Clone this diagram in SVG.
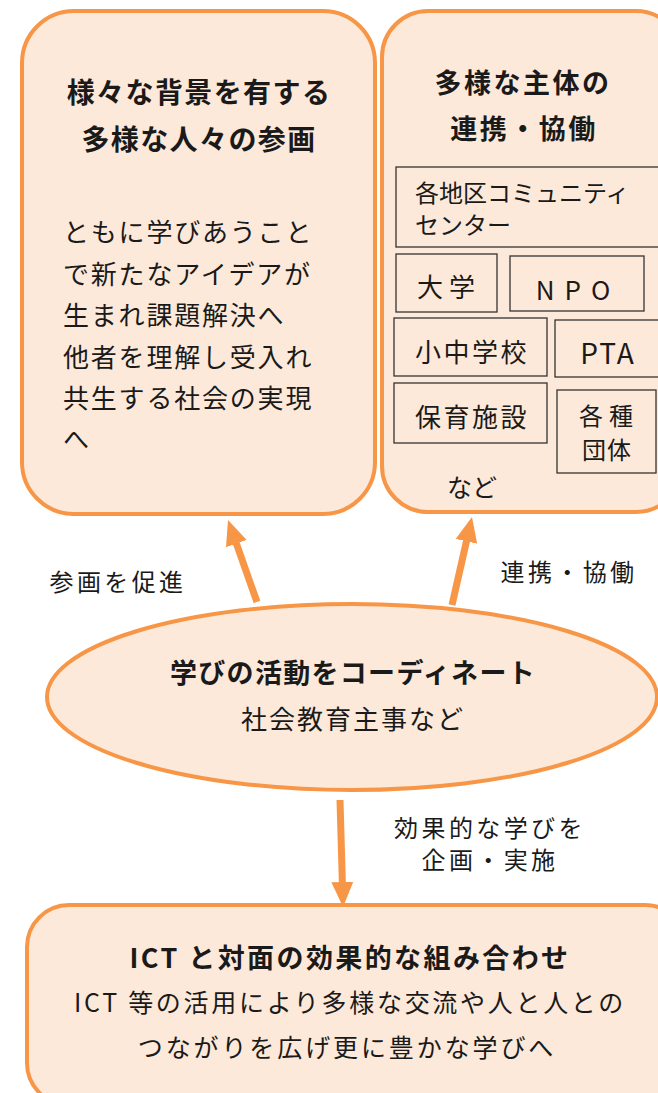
<svg xmlns="http://www.w3.org/2000/svg" width="658" height="1093" viewBox="0 0 658 1093">
<defs>
<style>
.box{fill:#FDE9D9;stroke:#F79646;stroke-width:4}
.inner{fill:none;stroke:#333;stroke-width:1.3}
.t{font-family:"Noto Sans CJK JP","Noto Sans",sans-serif;fill:#1a1a1a}
.b{font-weight:bold}
.body{font-size:26px;letter-spacing:1.8px}
.lbl{font-size:24px;letter-spacing:3.4px}
.conn{stroke:#F79646;stroke-width:7;fill:none}
</style>
<marker id="ah" viewBox="0 0 25 22" refX="2" refY="11" markerWidth="25" markerHeight="22" orient="auto" markerUnits="userSpaceOnUse">
<path d="M0,0 L25,11 L0,22 z" fill="#F79646"/>
</marker>
</defs>
<rect width="658" height="1093" fill="#fff"/>
<g id="left-box">
<rect class="box" x="22" y="11" width="353" height="503" rx="52"/>
<text class="t b" font-size="28" letter-spacing="1.4" x="199" y="103" text-anchor="middle">様々な背景を有する</text>
<text class="t b" font-size="28" letter-spacing="1.4" x="199" y="150" text-anchor="middle">多様な人々の参画</text>
<text class="t body" x="63" y="242">ともに学びあうこと</text>
<text class="t body" x="63" y="284">で新たなアイデアが</text>
<text class="t body" x="63" y="325">生まれ課題解決へ</text>
<text class="t body" x="63" y="367">他者を理解し受入れ</text>
<text class="t body" x="63" y="408">共生する社会の実現</text>
<text class="t body" x="63" y="449">へ</text>
</g>
<g id="right-box">
<rect class="box" x="382" y="11" width="300" height="501" rx="46"/>
<text class="t b" font-size="27" letter-spacing="2.5" x="523" y="93" text-anchor="middle">多様な主体の</text>
<text class="t b" font-size="27" letter-spacing="2.5" x="524" y="139" text-anchor="middle">連携・協働</text>
<g id="n-community"><rect class="inner" x="396" y="167" width="270" height="80"/>
<text class="t" font-size="24" x="415" y="202">各地区コミュニティ</text>
<text class="t" font-size="24" x="415" y="234">センター</text></g>
<g id="n-univ"><rect class="inner" x="396" y="254" width="101" height="58"/>
<text class="t" font-size="26" x="449" y="297" text-anchor="middle" letter-spacing="6">大学</text></g>
<g id="n-npo"><rect class="inner" x="510" y="256" width="134" height="55"/>
<text class="t" font-size="26" x="578" y="300" text-anchor="middle" letter-spacing="10">NPO</text></g>
<g id="n-school"><rect class="inner" x="394" y="318" width="153" height="58"/>
<text class="t" font-size="26" letter-spacing="2.5" x="472" y="362" text-anchor="middle">小中学校</text></g>
<g id="n-pta"><rect class="inner" x="555" y="320" width="110" height="57"/>
<text class="t" font-size="28" letter-spacing="2" x="608" y="364" text-anchor="middle">PTA</text></g>
<g id="n-nursery"><rect class="inner" x="394" y="383" width="153" height="60"/>
<text class="t" font-size="26" letter-spacing="2.5" x="472" y="427" text-anchor="middle">保育施設</text></g>
<g id="n-groups"><rect class="inner" x="557" y="390" width="99" height="83"/>
<text class="t" font-size="24" x="609" y="425" text-anchor="middle" letter-spacing="6">各種</text>
<text class="t" font-size="24" x="607" y="459" text-anchor="middle" letter-spacing="1">団体</text></g>
<text class="t" font-size="25" x="472" y="497" text-anchor="middle">など</text>
</g>
<g id="coordinator">
<ellipse class="box" cx="352" cy="697" rx="305" ry="93"/>
<text class="t b" font-size="27" letter-spacing="1.3" x="353" y="683" text-anchor="middle">学びの活動をコーディネート</text>
<text class="t" font-size="26" letter-spacing="2" x="353" y="729" text-anchor="middle">社会教育主事など</text>
</g>
<g id="bottom-box">
<rect class="box" x="27" y="905" width="660" height="200" rx="42"/>
<text class="t b" font-size="27" letter-spacing="2.4" x="350" y="968" text-anchor="middle">ICT と対面の効果的な組み合わせ</text>
<text class="t" font-size="25" letter-spacing="2.7" x="350" y="1012" text-anchor="middle">ICT 等の活用により多様な交流や人と人との</text>
<text class="t" font-size="25" letter-spacing="2.9" x="347" y="1057" text-anchor="middle">つながりを広げ更に豊かな学びへ</text>
</g>
<g id="connectors">
<line class="conn" x1="257" y1="602" x2="235.7" y2="541.7" marker-end="url(#ah)"/>
<line class="conn" x1="452" y1="605" x2="466.9" y2="539.4" marker-end="url(#ah)"/>
<line class="conn" x1="340" y1="800" x2="342.4" y2="884" marker-end="url(#ah)"/>
<text class="t lbl" x="118" y="591" text-anchor="middle">参画を促進</text>
<text class="t lbl" x="569" y="581" text-anchor="middle">連携・協働</text>
<text class="t lbl" x="490" y="837" text-anchor="middle">効果的な学びを</text>
<text class="t lbl" x="490" y="869" text-anchor="middle">企画・実施</text>
</g>
</svg>
